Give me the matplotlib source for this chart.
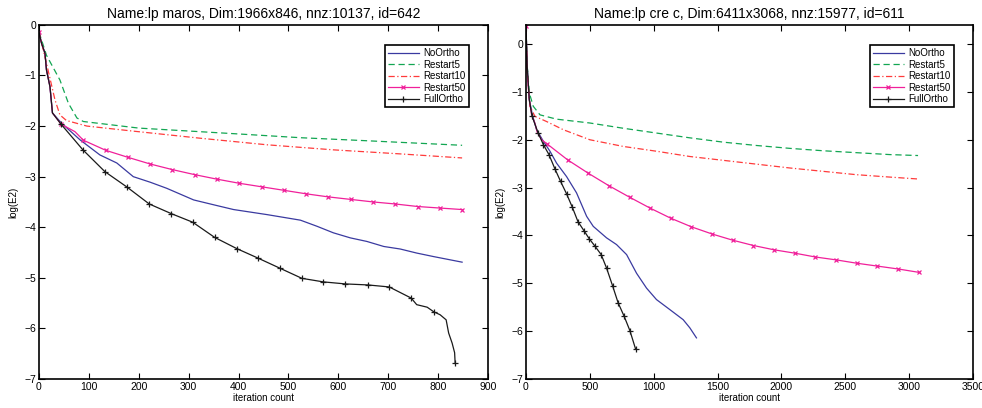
import matplotlib
matplotlib.use('Agg')
import matplotlib.pyplot as plt

plt.rcParams['font.family'] = ['Liberation Sans', 'DejaVu Sans']

labels = ['NoOrtho', 'Restart5', 'Restart10', 'Restart50', 'FullOrtho']

# ---- left panel: lp maros ----
l_no_x = [0, 5, 12, 15, 22, 27, 45, 82, 122, 156, 189, 223, 256, 310, 356, 390,
          457, 524, 557, 590, 624, 657, 691, 724, 757, 791, 848]
l_no_y = [-0.14, -0.36, -0.56, -0.89, -1.22, -1.74, -1.94, -2.27, -2.57, -2.73,
          -3.00, -3.11, -3.23, -3.46, -3.57, -3.65, -3.75, -3.86, -3.98, -4.11,
          -4.21, -4.28, -4.38, -4.43, -4.51, -4.58, -4.69]

l_r5_x = [0, 15, 42, 59, 76, 89, 200, 390, 524, 657, 848]
l_r5_y = [-0.14, -0.60, -1.09, -1.55, -1.84, -1.91, -2.04, -2.15, -2.23, -2.29, -2.38]

l_r10_x = [0, 15, 32, 42, 55, 96, 189, 323, 457, 590, 724, 848]
l_r10_y = [-0.14, -0.76, -1.48, -1.78, -1.89, -2.00, -2.10, -2.24, -2.37, -2.47,
           -2.55, -2.63]

l_r50_x = [0, 5, 12, 15, 22, 27, 44, 72, 89, 134, 179, 223, 267, 312, 357, 401,
           446, 491, 536, 580, 625, 670, 714, 759, 803, 848]
l_r50_y = [-0.14, -0.36, -0.56, -0.89, -1.22, -1.74, -1.96, -2.11, -2.28, -2.48,
           -2.62, -2.75, -2.86, -2.96, -3.05, -3.13, -3.20, -3.27, -3.34, -3.40,
           -3.45, -3.50, -3.54, -3.59, -3.62, -3.65]
l_r50_marks = [0] + list(range(6, 7)) + list(range(8, 26))

l_fo_x = [0, 5, 12, 15, 22, 27, 44, 88, 132, 177, 221, 265, 308, 352, 396, 439,
          483, 527, 570, 614, 659, 702, 746, 757, 778, 791, 804, 816, 821, 828,
          833, 834]
l_fo_y = [-0.14, -0.36, -0.56, -0.89, -1.22, -1.74, -1.96, -2.47, -2.90, -3.21,
          -3.54, -3.73, -3.90, -4.20, -4.42, -4.61, -4.81, -5.01, -5.08, -5.12,
          -5.14, -5.18, -5.40, -5.53, -5.58, -5.67, -5.73, -5.83, -6.09, -6.29,
          -6.48, -6.68]
l_fo_marks = list(range(6, 23)) + [25, 31]

# ---- right panel: lp cre c ----
r_no_x = [0, 10, 26, 52, 83, 136, 188, 240, 318, 396, 475, 527, 631, 709, 788,
          866, 944, 1022, 1127, 1231, 1283, 1335]
r_no_y = [0.38, -0.47, -1.16, -1.50, -1.79, -2.03, -2.24, -2.49, -2.77, -3.11,
          -3.60, -3.81, -4.05, -4.19, -4.40, -4.79, -5.10, -5.34, -5.55, -5.76,
          -5.93, -6.14]

r_r5_x = [0, 10, 26, 57, 110, 240, 500, 762, 1022, 1283, 1544, 1805, 2066, 2326,
          2587, 2848, 3070]
r_r5_y = [0.38, -0.47, -1.02, -1.30, -1.48, -1.57, -1.65, -1.76, -1.86, -1.96,
          -2.05, -2.12, -2.18, -2.23, -2.27, -2.31, -2.33]

r_r10_x = [0, 10, 31, 70, 162, 292, 500, 762, 1022, 1283, 1544, 1805, 2066, 2326,
           2587, 2848, 3070]
r_r10_y = [0.38, -0.61, -1.30, -1.51, -1.62, -1.79, -2.00, -2.14, -2.24, -2.35,
           -2.43, -2.51, -2.59, -2.66, -2.73, -2.78, -2.82]

r_r50_x = [0, 10, 26, 44, 70, 89, 123, 162, 326, 488, 649, 811, 973, 1134, 1296,
           1458, 1620, 1781, 1943, 2105, 2266, 2428, 2590, 2751, 2913, 3075]
r_r50_y = [0.38, -0.61, -1.16, -1.48, -1.65, -1.85, -2.00, -2.08, -2.42, -2.70,
           -2.96, -3.20, -3.43, -3.64, -3.82, -3.97, -4.10, -4.21, -4.30, -4.37,
           -4.45, -4.51, -4.58, -4.64, -4.70, -4.77]
r_r50_marks = [0] + list(range(7, 26))

r_fo_x = [0, 10, 26, 47, 94, 136, 180, 227, 271, 318, 363, 407, 454, 496, 542,
          589, 631, 678, 722, 769, 814, 858]
r_fo_y = [0.38, -0.47, -1.16, -1.50, -1.85, -2.10, -2.31, -2.61, -2.87, -3.13,
          -3.41, -3.71, -3.90, -4.07, -4.23, -4.40, -4.68, -5.05, -5.41, -5.69,
          -5.99, -6.37]
r_fo_marks = list(range(3, 22))

titles = ['Name:lp maros, Dim:1966x846, nnz:10137, id=642',
          'Name:lp cre c, Dim:6411x3068, nnz:15977, id=611']

c_no = '#3a3aa0'
c_r5 = '#12a652'
c_r10 = '#ff3b3b'
c_r50 = '#f0209a'
c_fo = '#1a1a1a'

fig = plt.figure(figsize=(9.82, 4.08), dpi=100)
ax1 = fig.add_axes([0.0397, 0.071, 0.4573, 0.868])
ax2 = fig.add_axes([0.5356, 0.071, 0.4552, 0.868])

panels = [
    (ax1, l_no_x, l_no_y, l_r5_x, l_r5_y, l_r10_x, l_r10_y,
     l_r50_x, l_r50_y, l_r50_marks, l_fo_x, l_fo_y, l_fo_marks),
    (ax2, r_no_x, r_no_y, r_r5_x, r_r5_y, r_r10_x, r_r10_y,
     r_r50_x, r_r50_y, r_r50_marks, r_fo_x, r_fo_y, r_fo_marks),
]

for i, (ax, nx, ny, ax5, ay5, ax10, ay10, ax50, ay50, m50, fx, fy, mf) in enumerate(panels):
    ax.plot(nx, ny, color=c_no, lw=0.9, label=labels[0])
    ax.plot(ax5, ay5, color=c_r5, lw=0.9, ls=(0, (5, 3)), label=labels[1])
    ax.plot(ax10, ay10, color=c_r10, lw=0.9, ls=(0, (5, 2, 1, 2)), label=labels[2])
    ax.plot(ax50, ay50, color=c_r50, lw=0.9, marker='x', ms=3.5, mew=0.9,
            markevery=m50, label=labels[3])
    ax.plot(fx, fy, color=c_fo, lw=0.9, marker='+', ms=5, mew=0.9,
            markevery=mf, label=labels[4])

    ax.set_title(titles[i], fontsize=10, pad=5)
    ax.set_xlabel('iteration count', fontsize=7, labelpad=1)
    ax.set_ylabel('log(E2)', fontsize=7, labelpad=4)
    ax.tick_params(direction='in', top=True, right=True, labelsize=7.5,
                   length=4, width=0.8, pad=2)
    for sp in ax.spines.values():
        sp.set_linewidth(1.2)
    leg = ax.legend(loc='upper right', fontsize=7, frameon=True, fancybox=False,
                    edgecolor='black', framealpha=1, handlelength=3.2,
                    handletextpad=0.5, borderpad=0.3, labelspacing=0.15,
                    bbox_to_anchor=(0.968, 0.956))
    leg.get_frame().set_linewidth(1.2)

ax1.set_xlim(0, 900)
ax1.set_ylim(-7, 0)
ax1.set_xticks(range(0, 901, 100))
ax1.set_yticks(range(-7, 1))

ax2.set_xlim(0, 3500)
ax2.set_ylim(-7, 0.4)
ax2.set_xticks(range(0, 3501, 500))
ax2.set_yticks(range(-7, 1))

fig.savefig('out.png', dpi=100)
